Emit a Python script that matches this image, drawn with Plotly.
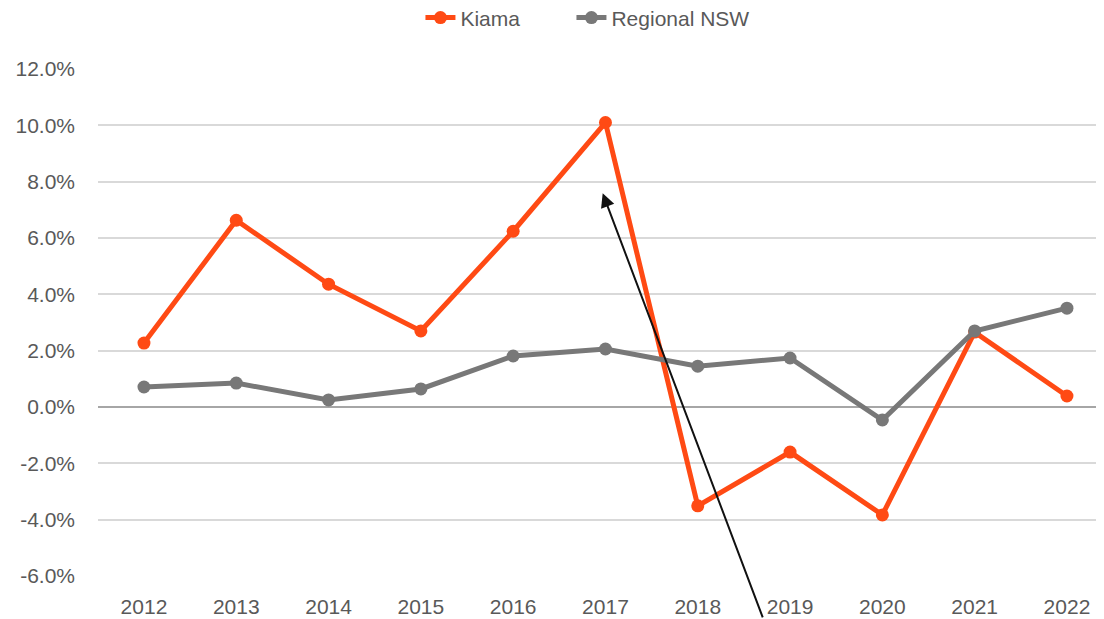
import plotly.graph_objects as go

years = ["2012", "2013", "2014", "2015", "2016", "2017", "2018", "2019", "2020", "2021", "2022"]
kiama = [0.0227, 0.0663, 0.0436, 0.0270, 0.0624, 0.1010, -0.0351, -0.0160, -0.0383, 0.0266, 0.0039]
regional_nsw = [0.0071, 0.0085, 0.0025, 0.0064, 0.0181, 0.0206, 0.0145, 0.0174, -0.0046, 0.0270, 0.0351]
y_ticks = [-0.06, -0.04, -0.02, 0.0, 0.02, 0.04, 0.06, 0.08, 0.10, 0.12]
y_tick_labels = ["-6.0%", "-4.0%", "-2.0%", "0.0%", "2.0%", "4.0%", "6.0%", "8.0%", "10.0%", "12.0%"]

# Annotation arrow (head and tail), in axis units
arrow_head = (4.97, 0.0759)
arrow_tail = (6.71, -0.0752)

FONT = "Liberation Sans"
TXT = "#595959"
ORANGE = "#FF4A14"
GREY = "#787878"

fig = go.Figure()
fig.add_trace(go.Scatter(
    x=list(range(len(years))), y=kiama, name="Kiama", mode="lines+markers",
    line=dict(color=ORANGE, width=5), marker=dict(color=ORANGE, size=13),
    legendwidth=106,
))
fig.add_trace(go.Scatter(
    x=list(range(len(years))), y=regional_nsw, name="Regional NSW", mode="lines+markers",
    line=dict(color=GREY, width=5), marker=dict(color=GREY, size=13),
    legendwidth=160,
))

fig.add_annotation(
    x=arrow_head[0], y=arrow_head[1], ax=arrow_tail[0], ay=arrow_tail[1],
    xref="x", yref="y", axref="x", ayref="y", text="", showarrow=True,
    arrowhead=2, arrowsize=1.4, arrowwidth=2, arrowcolor="#111111", standoff=0,
)

fig.update_layout(
    width=1104, height=619,
    margin=dict(l=90, r=0, t=61, b=51),
    paper_bgcolor="white", plot_bgcolor="white",
    font=dict(family=FONT, size=21, color=TXT),
    showlegend=True,
    legend=dict(
        orientation="h", x=0.318, xanchor="left", y=0.984, yanchor="middle",
        yref="container",
        font=dict(family=FONT, size=21, color=TXT),
        bgcolor="rgba(0,0,0,0)",
    ),
    xaxis=dict(
        tickmode="array", tickvals=list(range(len(years))), ticktext=years,
        range=[-0.498, 10.488], showgrid=False, zeroline=False, showline=False,
        ticks="", ticklabelstandoff=16, automargin=False,
        tickfont=dict(family=FONT, size=21, color=TXT),
        fixedrange=True,
    ),
    yaxis=dict(
        tickmode="array", tickvals=y_ticks, ticktext=y_tick_labels,
        range=[-0.06, 0.12], showgrid=True, gridcolor="#D9D9D9", gridwidth=1.5,
        zeroline=True, zerolinecolor="#A6A6A6", zerolinewidth=1.5,
        showline=False, ticks="", ticklabelstandoff=22, automargin=False,
        tickfont=dict(family=FONT, size=21, color=TXT),
    ),
)

fig.write_html("out.html")
